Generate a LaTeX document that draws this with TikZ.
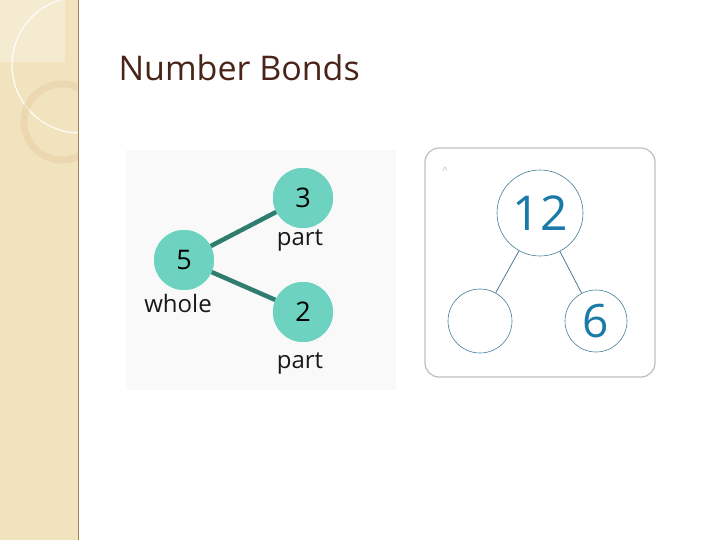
\documentclass[tikz,border=0pt]{standalone}
\usepackage{fontspec}
\setmainfont{Open Sans}
\definecolor{beige}{HTML}{F1E3BE}
\definecolor{teal1}{HTML}{6DD3C0}
\definecolor{tline}{HTML}{2F7D6E}
\definecolor{blue1}{HTML}{1A7BA8}
\definecolor{brownt}{HTML}{4A2418}
\begin{document}
\begin{tikzpicture}[x=1pt,y=-1pt,
  tc/.style={circle,fill=teal1,minimum size=60pt,inner sep=0pt,font=\fontsize{27}{29}\selectfont},
  lbl/.style={font=\fontsize{24}{26}\selectfont,text=black!90},
  wc/.style={circle,draw=blue1!60!gray,line width=0.6pt,fill=white,inner sep=0pt,text=blue1}]
\useasboundingbox (0,0) rectangle (720,540);
\fill[white] (0,0) rectangle (720,540);
\fill[beige] (0,0) rectangle (78,540);
\fill[white,opacity=0.3] (0,0) rectangle (65,62);
\begin{scope}
\clip (0,0) rectangle (78,540);
\draw[white,opacity=0.85,line width=1.3pt] (80,65) circle (68);
\draw[beige!80!brown,opacity=0.5,line width=7pt] (62,122) circle (38);
\end{scope}
\draw[brown!60!gray,line width=1pt] (78,0) -- (78,540);
\node[anchor=west,text=brownt,font=\fontsize{34}{36}\selectfont] (title) at (115,68) {Number Bonds};
% left panel
\fill[gray!5] (126,150) rectangle (396,390);
\node[tc] (five) at (184,260) {5};
\node[tc] (three) at (303,198) {3};
\node[tc] (two) at (303,312) {2};
\draw[tline,line width=4.5pt] (five) -- (three);
\draw[tline,line width=4.5pt] (five) -- (two);
\node[tc] at (184,260) {5};
\node[tc] at (303,198) {3};
\node[tc] at (303,312) {2};
\node[lbl] (p1) at (300,240) {part};
\node[lbl] (wh) at (178,303) {whole};
\node[lbl] (p2) at (300,363) {part};
% right panel
\draw[gray!50,line width=1.2pt,rounded corners=14pt,fill=white] (425,148) rectangle (655,377);
\node[text=gray!60,font=\small] (caret) at (445,170) {\^{}};
\node[wc,minimum size=86pt,font=\fontsize{48}{50}\selectfont] (twelve) at (540,213) {12};
\node[wc,minimum size=64pt] (blank) at (480,321) {};
\node[wc,minimum size=62pt,font=\fontsize{46}{48}\selectfont] (six) at (596,321) {6};
\draw[blue1!50!gray,line width=0.8pt] (twelve) -- (blank);
\draw[blue1!50!gray,line width=0.8pt] (twelve) -- (six);
\end{tikzpicture}
\end{document}
